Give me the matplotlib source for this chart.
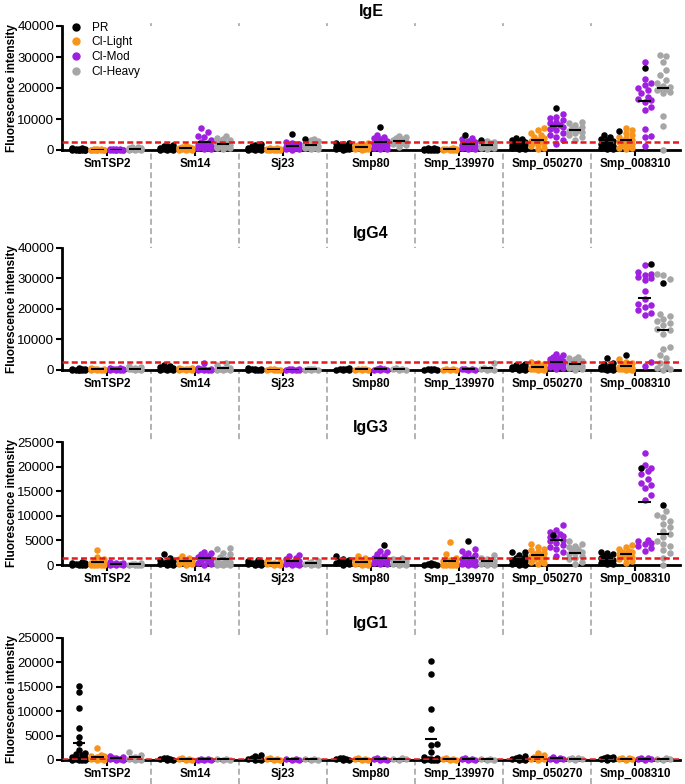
"""Antibody responses (IgE, IgG4, IgG3, IgG1) to 7 schistosome antigens,
grouped by infection class. Scatter dot plot with mean bars."""
import numpy as np
import matplotlib
matplotlib.use('Agg')
import matplotlib.pyplot as plt
from matplotlib.lines import Line2D

plt.rcParams['font.family'] = ['Liberation Sans', 'DejaVu Sans']

ANTIGENS = ['SmTSP2', 'Sm14', 'Sj23', 'Smp80', 'Smp_139970', 'Smp_050270', 'Smp_008310']
GROUPS = ['PR', 'CI-Light', 'CI-Mod', 'CI-Heavy']
COLORS = ['#000000', '#F7941D', '#A020E0', '#A6A6A6']

PANELS = ['IgE', 'IgG4', 'IgG3', 'IgG1']
YMAX = [40000, 40000, 25000, 25000]
YSTEP = [10000, 10000, 5000, 5000]
CUTOFF = [2700, 2600, 1500, 300]

# ── IgE ──
IGE_PR = [
    [600, 500, 400, 300, 300, 200, 200, 100, 100, 100, 50, 0, 0, 0],
    [1600, 1400, 1200, 1000, 800, 600, 500, 300, 200, 100, 0, 0],
    [1800, 1500, 1200, 900, 700, 500, 400, 300, 200, 100, 0, 0],
    [2400, 2100, 1800, 1500, 1300, 1100, 900, 700, 500, 400, 300, 200, 100],
    [700, 500, 400, 300, 200, 150, 100, 50, 0, 0],
    [4000, 3500, 3200, 2900, 2600, 2300, 2000, 1700, 1500, 1200, 1000, 800, 600, 400, 200],
    [4800, 4200, 3500, 3200, 2900, 2600, 2300, 2000, 1700, 1400, 1100, 800, 500, 300, 200],
]
IGE_LIGHT = [
    [300, 250, 200, 150, 100, 100, 50, 50, 0, 0, 0],
    [1300, 1100, 900, 700, 500, 400, 300, 200, 100, 50, 0],
    [600, 500, 400, 300, 200, 150, 100, 50, 0, 0],
    [2300, 2000, 1700, 1400, 1200, 1000, 800, 600, 400, 300, 200, 100],
    [500, 400, 300, 250, 200, 100, 50, 0, 0],
    [7000, 6400, 5400, 4800, 4300, 3800, 3200, 3000, 2800, 2500, 2100, 1700, 1300, 800, 200],
    [7000, 6400, 5600, 4800, 4300, 3800, 3200, 2900, 2700, 2500, 2200, 1900, 1600, 1200, 800, 500, 300],
]
IGE_MOD = [
    [400, 300, 250, 200, 150, 100, 100, 50, 0, 0, 0],
    [7200, 5900, 4500, 4100, 3200, 2700, 2200, 1700, 1600, 1400, 1100, 800, 500, 300, 200],
    [2600, 2300, 2000, 1700, 1400, 1100, 900, 800, 700, 500, 300, 200, 100],
    [4800, 4300, 3800, 3400, 3000, 2600, 2400, 1900, 1800, 1600, 1300, 1000, 750, 400, 200],
    [4000, 3400, 2900, 2700, 2200, 1800, 1500, 1300, 1100, 900, 700, 500, 300, 200],
    [11500, 10700, 10200, 9700, 9100, 8600, 8200, 7700, 7300, 6900, 6400, 5600, 4800, 4300, 3200, 1900],
    [28300, 23000, 21500, 21000, 20000, 19500, 18500, 17000, 16500, 16000, 15600, 13800, 12900,
     6700, 4500, 4100, 1300],
]
IGE_HEAVY = [
    [1100, 900, 700, 500, 400, 300, 200, 100, 100, 50],
    [4500, 4000, 3600, 3200, 2700, 2300, 1900, 1500, 1400, 1200, 1000, 700, 500, 300],
    [3600, 3300, 2800, 2300, 1900, 1600, 1300, 1200, 1000, 800, 600, 400, 200],
    [4600, 4200, 3800, 3500, 3200, 2900, 2700, 2500, 2200, 1900, 1600, 1100],
    [3000, 2700, 2400, 2200, 1900, 1600, 1400, 1200, 1000, 800, 500, 300],
    [9100, 8600, 8000, 7500, 7000, 6600, 6200, 5800, 5400, 4800, 4100, 3200],
    [30600, 30300, 28500, 25800, 24200, 22600, 21500, 20800, 20200, 19900, 19600, 19400, 18800,
     18500, 11100, 7700, 0],
]
# individual donors drawn in black inside a CI group: (antigen, group, value)
IGE_MARKED = [(2, 2, 5100), (2, 3, 3400), (3, 2, 7500), (4, 2, 4800), (4, 3, 3200),
              (5, 2, 13400), (6, 1, 6100), (6, 2, 26300)]

# ── IgG4 ──
IGG4_PR = [
    [600, 400, 300, 200, 100, 100, 50, 0, 0, 0],
    [1500, 1200, 900, 700, 500, 300, 200, 100, 0, 0],
    [500, 400, 300, 200, 100, 50, 0, 0],
    [600, 400, 300, 200, 100, 0, 0],
    [400, 300, 200, 100, 0, 0],
    [2000, 1700, 1400, 1100, 900, 700, 500, 300, 200, 100, 0],
    [3900, 2400, 2000, 1300, 1000, 800, 600, 400, 300, 200, 100, 0],
]
IGG4_LIGHT = [
    [500, 400, 300, 200, 100, 50, 0, 0],
    [700, 500, 400, 300, 200, 100, 0, 0],
    [300, 200, 100, 50, 0, 0],
    [400, 300, 200, 100, 0, 0],
    [300, 200, 100, 0, 0],
    [2700, 2300, 1900, 1500, 1100, 800, 600, 500, 400, 300, 200, 100, 0],
    [3500, 2700, 2200, 1600, 1200, 900, 700, 500, 400, 300, 200, 100, 0],
]
IGG4_MOD = [
    [800, 600, 400, 300, 200, 100, 50, 0, 0],
    [2400, 600, 400, 300, 200, 100, 50, 0, 0],
    [400, 300, 200, 100, 50, 0, 0],
    [500, 300, 200, 100, 0, 0],
    [400, 300, 200, 100, 0],
    [5300, 4800, 4300, 4000, 3700, 3400, 3100, 2900, 2700, 2500, 2200, 1900, 1600, 1300, 1000, 700, 400],
    [34300, 32200, 31600, 31000, 30500, 30000, 29400, 25800, 23400, 21800, 21300, 20700, 19600,
     18700, 18000, 2700, 1300],
]
IGG4_HEAVY = [
    [1200, 900, 600, 400, 300, 200, 100, 0],
    [2200, 1600, 700, 400, 300, 200, 100, 0, 0],
    [400, 300, 200, 100, 0, 0],
    [500, 300, 200, 100, 0],
    [2300, 800, 400, 200, 100, 0],
    [4300, 3900, 3500, 3000, 2600, 2200, 1900, 1600, 1400, 1200, 900, 600, 300, 100],
    [31600, 31100, 29700, 18500, 17700, 16700, 16100, 15500, 14700, 13300, 13000, 11800, 7600,
     6800, 4900, 3800, 2400, 1300, 500, 200, 0],
]
IGG4_MARKED = [(6, 1, 4900), (6, 2, 34700), (6, 3, 28600)]

# ── IgG3 ──
IGG3_PR = [
    [600, 500, 400, 300, 200, 100, 50, 0, 0],
    [2200, 1400, 1100, 800, 600, 400, 300, 200, 100, 0],
    [1000, 800, 700, 500, 400, 300, 200, 100, 0],
    [1800, 1300, 1000, 800, 600, 400, 200, 100],
    [400, 300, 200, 100, 0, 0],
    [2700, 2700, 2000, 1700, 1500, 1300, 1100, 900, 700, 500, 300, 200, 100, 0],
    [2700, 2400, 2200, 1900, 1700, 1500, 1300, 1100, 900, 700, 500, 300, 200],
]
IGG3_LIGHT = [
    [3000, 1600, 1200, 800, 600, 400, 300, 200, 100, 50, 0, 0, 0],
    [1800, 1500, 1200, 1000, 800, 600, 400, 300, 200, 100],
    [900, 700, 500, 400, 300, 200, 100, 0],
    [1800, 1400, 1100, 900, 700, 500, 300, 200, 100, 0],
    [4600, 2200, 1500, 1100, 800, 500, 300, 200, 100, 0, 0, 0, 0],
    [4300, 3700, 3300, 3000, 2700, 2400, 2200, 2000, 1800, 1600, 1400, 1200, 900, 700, 400, 200],
    [4100, 3600, 3300, 2900, 2700, 2600, 2400, 2200, 2000, 1900, 1600, 1400, 1200, 900, 500],
]
IGG3_MOD = [
    [600, 500, 400, 300, 200, 100, 0, 0],
    [2700, 2500, 2200, 1900, 1600, 1400, 1200, 1000, 800, 500, 300, 100],
    [2000, 1800, 1500, 1200, 900, 700, 500, 300, 200, 100, 0],
    [2900, 2600, 2200, 1800, 1500, 1200, 1000, 800, 600, 500, 300, 200],
    [3200, 2900, 2400, 2100, 1800, 1500, 1200, 900, 800, 500, 300, 200, 100, 0],
    [8200, 7200, 6700, 6200, 5900, 5700, 5400, 5000, 4800, 4500, 4000, 3600, 3300, 2600, 1900],
    [22800, 20300, 19800, 19200, 18400, 17500, 16700, 16200, 15600, 14300, 13300, 5000, 4800,
     4500, 4300, 3900, 3500, 2900],
]
IGG3_HEAVY = [
    [400, 300, 200, 100, 50, 0, 0],
    [3500, 3200, 2500, 2200, 1700, 1200, 900, 600, 400, 300, 200, 100, 0, 0],
    [900, 600, 400, 300, 200, 100, 0],
    [1400, 1200, 900, 700, 500, 300, 200, 100, 0],
    [2000, 1500, 1200, 900, 700, 500, 300, 100, 0],
    [4800, 4300, 3800, 3600, 3300, 3000, 2700, 2400, 2200, 1800, 1500, 1200, 700, 200],
    [10900, 10200, 9700, 9000, 8400, 7700, 7000, 6300, 5600, 4800, 4300, 3900, 3000, 2400, 1500, 0],
]
IGG3_MARKED = [(3, 2, 4000), (4, 2, 4900), (5, 2, 6100), (6, 2, 19700), (6, 3, 12200)]

# ── IgG1 ──
IGG1_PR = [
    [15200, 13900, 10700, 6500, 4800, 3400, 2000, 1400, 1200, 1000, 700, 500, 300, 200, 100, 0, 0, 0],
    [500, 400, 300, 200, 100, 0],
    [1100, 800, 500, 300, 200, 100, 0],
    [500, 400, 300, 200, 100, 0],
    [20300, 17700, 10500, 6300, 3200, 3000, 1700, 600, 400, 300, 200, 100, 0, 0, 0],
    [800, 700, 500, 300, 200, 100, 0],
    [700, 600, 500, 400, 300, 200, 100],
]
IGG1_LIGHT = [
    [2400, 1000, 900, 800, 700, 400, 300, 200, 100, 0],
    [400, 300, 200, 100, 0],
    [400, 300, 200, 100, 0],
    [400, 300, 200, 100, 0],
    [400, 300, 200, 100, 0],
    [1400, 1000, 700, 500, 300, 200, 100],
    [500, 400, 300, 200, 100],
]
IGG1_MOD = [
    [800, 600, 500, 400, 300, 200, 100, 0],
    [300, 200, 100, 0, 0],
    [300, 200, 100, 0],
    [400, 300, 200, 100, 0],
    [400, 300, 200, 100, 0],
    [600, 400, 300, 200, 100],
    [500, 400, 300, 200, 100],
]
IGG1_HEAVY = [
    [1600, 1000, 700, 500, 300, 200, 100, 0],
    [300, 200, 100, 0],
    [300, 200, 100, 0],
    [400, 300, 200, 100],
    [300, 200, 100, 0],
    [500, 400, 300, 200, 100],
    [400, 300, 200, 100],
]
IGG1_MARKED = []

PANEL_DATA = [
    ([IGE_PR, IGE_LIGHT, IGE_MOD, IGE_HEAVY], IGE_MARKED),
    ([IGG4_PR, IGG4_LIGHT, IGG4_MOD, IGG4_HEAVY], IGG4_MARKED),
    ([IGG3_PR, IGG3_LIGHT, IGG3_MOD, IGG3_HEAVY], IGG3_MARKED),
    ([IGG1_PR, IGG1_LIGHT, IGG1_MOD, IGG1_HEAVY], IGG1_MARKED),
]

W, H = 685, 784
AX_LEFT, AX_RIGHT = 62, 680          # px
AX_ROWS = [(26, 150), (248, 370), (442, 565), (638, 760)]  # top/bottom px
XLIM = (-0.51, 6.51)
OFFSETS = [-0.32, -0.107, 0.107, 0.32]
MS = 22            # marker area (pt^2)
DIAM = 6.4         # marker diameter, px


def swarm(y_px, diam=DIAM, max_half=8.0):
    """Horizontal offsets (px) so dots don't pile on each other."""
    step = diam * 0.5
    cands = [0.0]
    k = 1
    while k * step <= max_half:
        cands += [k * step, -k * step]
        k += 1
    xs = np.zeros(len(y_px))
    placed = []
    for i in np.argsort(y_px):
        y = y_px[i]
        best, best_d, pick = None, -1.0, 0.0
        for c in cands:
            d = min((np.hypot(c - px, y - py) for px, py in placed), default=np.inf)
            if d >= diam * 0.95:
                best = c
                break
            if d > best_d:
                best_d, pick = d, c
        xs[i] = best if best is not None else pick
        placed.append((xs[i], y))
    return xs


def main():
    fig = plt.figure(figsize=(W / 100, H / 100), dpi=100)
    axes = []
    for p, (top, bot) in enumerate(AX_ROWS):
        ax = fig.add_axes([AX_LEFT / W, 1 - bot / H, (AX_RIGHT - AX_LEFT) / W, (bot - top) / H])
        axes.append(ax)
        ymax = YMAX[p]
        ax.set_xlim(*XLIM)
        ax.set_ylim(0, ymax)
        ypx = ax.bbox.height / ymax
        xpx = ax.bbox.width / (XLIM[1] - XLIM[0])

        groups, marked = PANEL_DATA[p]
        for a in range(len(ANTIGENS)):
            for g in range(len(GROUPS)):
                vals = list(groups[g][a])
                cols = [COLORS[g]] * len(vals)
                for ma, mg, mv in marked:
                    if ma == a and mg == g:
                        vals.append(mv)
                        cols.append('#000000')
                vals = np.array(vals, dtype=float)
                xc = a + OFFSETS[g]
                xs = xc + swarm(vals * ypx) / xpx
                cols = np.array(cols)
                # group colour first, black donors on top
                base = cols != '#000000' if g > 0 else np.ones(len(vals), bool)
                ax.scatter(xs[base], vals[base], s=MS, color=COLORS[g],
                           linewidths=0, zorder=3, clip_on=False)
                if g > 0 and (~base).any():
                    ax.scatter(xs[~base], vals[~base], s=MS, color='#000000',
                               linewidths=0, zorder=3.5, clip_on=False)
                m = vals.mean()
                ax.plot([xc - 0.07, xc + 0.07], [m, m], color='black', lw=1.5,
                        zorder=5, solid_capstyle='butt')

        ax.axhline(CUTOFF[p], color='#E41A1C', lw=1.8, ls=(0, (2.4, 1.3)), zorder=4)

        for s in ['top', 'right']:
            ax.spines[s].set_visible(False)
        for s in ['left', 'bottom']:
            ax.spines[s].set_linewidth(2.0)
        ax.set_yticks(np.arange(0, ymax + 1, YSTEP[p]))
        ax.set_xticks(range(len(ANTIGENS)))
        ax.set_xticklabels(ANTIGENS, fontweight='bold', fontsize=8.5)
        ax.tick_params(axis='y', labelsize=9.5, length=4, width=1.5, pad=1.5)
        ax.tick_params(axis='x', length=4, width=1.5, pad=2)
        ax.set_ylabel('Fluorescence intensity', fontweight='bold', fontsize=8.5)
        ax.yaxis.set_label_coords(-0.072, 0.5)
        ax.set_title(PANELS[p], fontweight='bold', fontsize=11.5, pad=7)

    # legend in the first panel
    handles = [Line2D([], [], marker='o', ls='', color=c, markersize=5) for c in COLORS]
    axes[0].legend(handles, GROUPS, loc='upper left', bbox_to_anchor=(0.0, 1.1),
                   frameon=False, fontsize=8.5, handlelength=1.0, handletextpad=0.8,
                   labelspacing=0.22, borderaxespad=0.3)

    # grey separators between antigens run through the whole figure
    ax0 = axes[0]
    xpx = ax0.bbox.width / (XLIM[1] - XLIM[0])
    for b in np.arange(0.5, len(ANTIGENS) - 1, 1.0):
        xf = (AX_LEFT + (b - XLIM[0]) * xpx) / W
        fig.add_artist(Line2D([xf, xf], [0, 1 - 20 / H], transform=fig.transFigure,
                              color='#9E9E9E', lw=1.1, ls=(0, (3.9, 2.2)), zorder=0))

    fig.savefig('out.png', dpi=100)
    plt.close(fig)


if __name__ == '__main__':
    main()
